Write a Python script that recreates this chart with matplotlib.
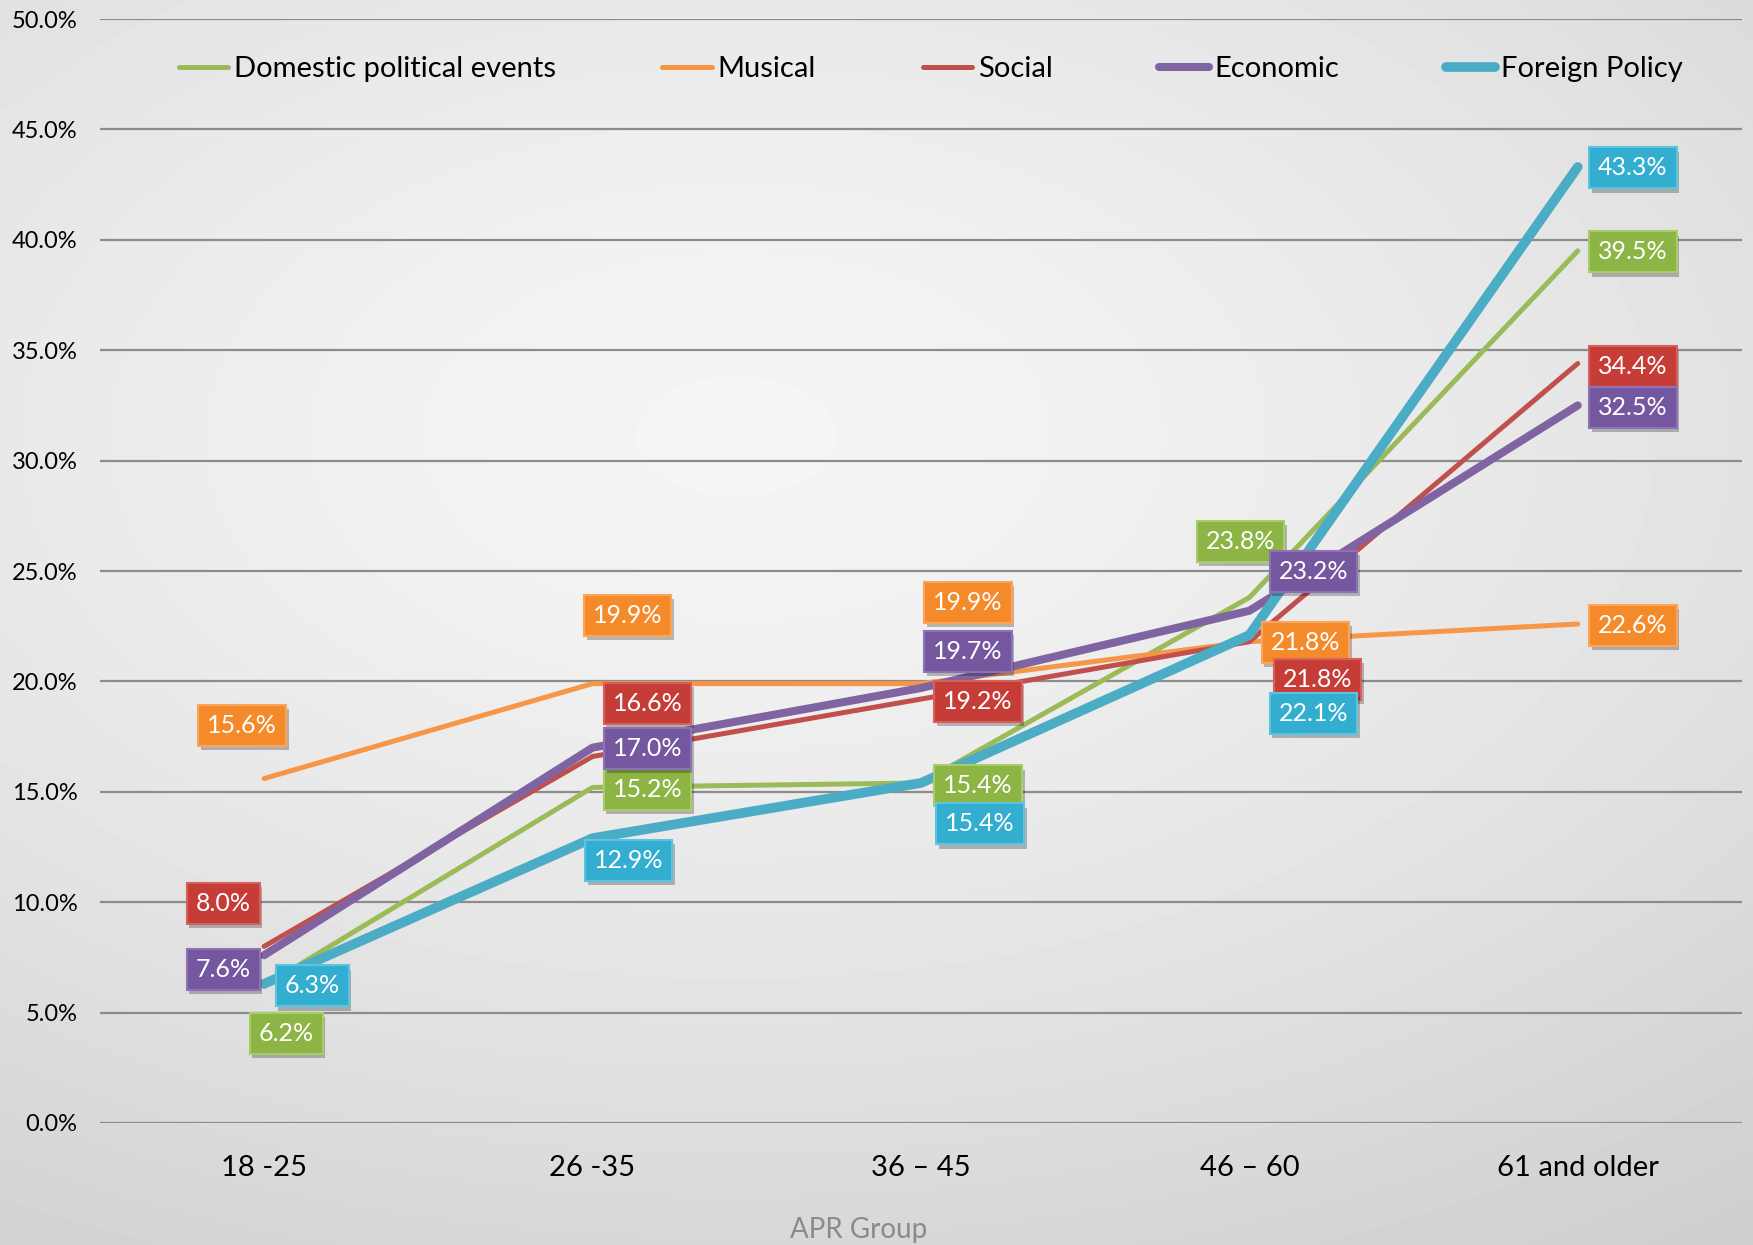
import numpy as np
import matplotlib.pyplot as plt
import matplotlib.patheffects as pe
from matplotlib.ticker import FuncFormatter

plt.rcParams['font.family'] = ['Lato', 'DejaVu Sans']

# age groups and shares (%) per topic
groups = ["18 -25", "26 -35", "36 \u2013 45", "46 \u2013 60", "61 and older"]
domestic = [6.2, 15.2, 15.4, 23.8, 39.5]
musical = [15.6, 19.9, 19.9, 21.8, 22.6]
social = [8.0, 16.6, 19.2, 21.8, 34.4]
economic = [7.6, 17.0, 19.7, 23.2, 32.5]
foreign = [6.3, 12.9, 15.4, 22.1, 43.3]

names = ["Domestic political events", "Musical", "Social", "Economic", "Foreign Policy"]
series = [domestic, musical, social, economic, foreign]
line_colors = ["#9bbb59", "#f79646", "#c0504d", "#8064a2", "#4bacc6"]
box_colors = ["#8cb545", "#f58a2a", "#c63d38", "#75579f", "#33aed0"]
box_edges = ["#a9cc6a", "#fba55a", "#d8605b", "#8f72b5", "#5cc4de"]
widths = [3.6, 3.6, 3.6, 5.8, 7.0]

# label offsets in pixels (dx, dy) for each series / group
offsets = [
    [(22, -47), (55, -2), (57, -3), (-9, 56), (55, -1)],
    [(-22, 53), (35, 68), (47, 81), (56, -1), (55, -1)],
    [(-41, 43), (55, 53), (57, -2), (68, -38), (55, -3)],
    [(-41, -14), (55, -1), (47, 37), (64, 39), (55, -2)],
    [(48, -2), (36, -22), (59, -41), (64, -78), (55, -1)],
]

fig = plt.figure(figsize=(17.53, 12.45), dpi=100)

# soft radial background
bg = fig.add_axes([0, 0, 1, 1], zorder=-10)
yy, xx = np.mgrid[0:1:300j, 0:1:420j]
r = np.sqrt((xx - 0.42) ** 2 + ((yy - 0.35) * 1.2) ** 2)
shade = 0.96 - 0.15 * np.clip(r / 0.95, 0, 1) ** 1.4
bg.imshow(shade, cmap="gray", vmin=0, vmax=1, aspect="auto", extent=(0, 1, 1, 0),
          interpolation="bicubic")
bg.axis("off")

ax = fig.add_axes([0.057, 0.098, 0.9367, 0.8867])
ax.set_facecolor("none")
x = np.arange(len(groups))

for vals, name, c, w in zip(series, names, line_colors, widths):
    ax.plot(x, vals, color=c, lw=w, label=name, solid_capstyle="round", zorder=3)

for vals, offs, fc, ec in zip(series, offsets, box_colors, box_edges):
    for xi, v, (dx, dy) in zip(x, vals, offs):
        t = ax.annotate(f"{v:.1f}%", (xi, v), xytext=(dx, dy), textcoords="offset pixels",
                        ha="center", va="center", color="white", fontsize=18, zorder=5,
                        bbox=dict(boxstyle="square,pad=0.36", fc=fc, ec=ec, lw=1.5))
        t.get_bbox_patch().set_path_effects([
            pe.SimplePatchShadow(offset=(2, -3), shadow_rgbFace="#000000", alpha=0.25),
            pe.Normal()])

ax.set_xlim(-0.5, 4.5)
ax.set_ylim(0, 50)
ax.set_yticks(np.arange(0, 50.1, 5))
ax.yaxis.set_major_formatter(FuncFormatter(lambda v, p: f"{v:.1f}%"))
ax.set_xticks(x)
ax.set_xticklabels(groups)
ax.tick_params(axis="y", length=0, pad=16, labelsize=17)
ax.tick_params(axis="x", length=0, pad=23, labelsize=21)
ax.grid(axis="y", color="#8c8c8c", lw=1.6, zorder=1)
for s in ax.spines.values():
    s.set_visible(False)

ax.legend(loc="center", bbox_to_anchor=(0.506, 0.9545), ncol=5, frameon=False,
          fontsize=21, handlelength=1.7, handletextpad=0.2, columnspacing=3.65)

fig.text(0.49, 0.012, "APR Group", color="#8a8a8a", fontsize=20, ha="center", va="center")

fig.savefig("out.png", dpi=100)
